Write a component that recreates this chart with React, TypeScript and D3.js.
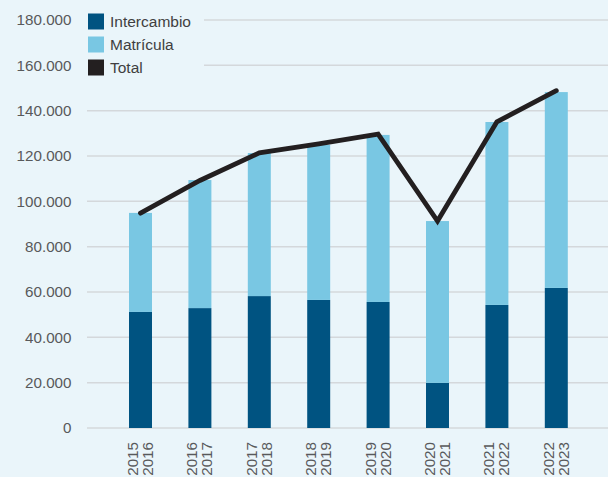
import React from "react";
import * as d3 from "d3";

const categories = [
  ["2015", "2016"],
  ["2016", "2017"],
  ["2017", "2018"],
  ["2018", "2019"],
  ["2019", "2020"],
  ["2020", "2021"],
  ["2021", "2022"],
  ["2022", "2023"],
];
const intercambio = [51200, 52900, 58200, 56500, 55600, 19900, 54300, 61800];
const matricula = [43700, 56500, 63100, 68400, 73700, 71400, 80700, 86400];
const total = [94800, 109200, 121400, 125300, 129600, 91300, 135100, 148800];
const yTicks = [0, 20000, 40000, 60000, 80000, 100000, 120000, 140000, 160000, 180000];
const legendItems = ["Intercambio", "Matrícula", "Total"];

const W = 608;
const H = 477;
const BG = "#eaf5fa";
const DARK = "#005381";
const LIGHT = "#79c7e3";
const LINE = "#231f20";
const GRID = "#d4d8db";
const FONT = "'Liberation Sans', Arial, Helvetica, sans-serif";

export default function App() {
  const keys = categories.map((c) => c.join("-"));
  const x = d3
    .scaleBand<string>()
    .domain(keys)
    .range([110.8, 586])
    .paddingInner(0.613)
    .paddingOuter(0.3065);
  const y = d3.scaleLinear().domain([0, 180000]).range([428, 20]);
  const fmt = (v: number) => (v === 0 ? "0" : d3.format(",")(v).replace(/,/g, "."));
  const bw = x.bandwidth();
  const cx = (i: number) => (x(keys[i]) as number) + bw / 2;

  const line = d3
    .line<number>()
    .x((_, i) => cx(i))
    .y((d) => y(d));

  const legendColors = [DARK, LIGHT, LINE];

  return (
    <div style={{ position: "absolute", left: 0, top: 0 }}>
      <svg width={W} height={H} style={{ display: "block" }} fontFamily={FONT}>
        <rect x={0} y={0} width={W} height={H} fill={BG} />
        {yTicks.map((t) => (
          <g key={t}>
            <line x1={87} x2={W} y1={y(t)} y2={y(t)} stroke={GRID} strokeWidth={1.5} />
            <text
              x={71.5}
              y={y(t)}
              dy="0.36em"
              textAnchor="end"
              fontSize={15.2}
              fill="#58595b"
            >
              {fmt(t)}
            </text>
          </g>
        ))}
        {keys.map((k, i) => (
          <g key={k}>
            <rect
              x={x(k)}
              y={y(intercambio[i])}
              width={bw}
              height={y(0) - y(intercambio[i])}
              fill={DARK}
            />
            <rect
              x={x(k)}
              y={y(intercambio[i] + matricula[i])}
              width={bw}
              height={y(intercambio[i]) - y(intercambio[i] + matricula[i])}
              fill={LIGHT}
            />
            <text
              transform={`translate(${cx(i)},442) rotate(-90)`}
              textAnchor="end"
              fontSize={15.2}
              fill="#58595b"
            >
              <tspan x={0} y={-2.5}>
                {categories[i][0]}
              </tspan>
              <tspan x={0} y={12.5}>
                {categories[i][1]}
              </tspan>
            </text>
          </g>
        ))}
        <path
          d={line(total) || ""}
          fill="none"
          stroke={LINE}
          strokeWidth={4.8}
          strokeLinecap="round"
          strokeLinejoin="miter"
        />
        <rect x={87} y={0} width={117} height={84} fill={BG} />
        {legendItems.map((name, i) => (
          <g key={name} transform={`translate(88,${13.5 + i * 23})`}>
            <rect x={0} y={0} width={16} height={16} fill={legendColors[i]} />
            <text x={22} y={8} dy="0.36em" fontSize={15.5} fill="#3f3f41">
              {name}
            </text>
          </g>
        ))}
      </svg>
    </div>
  );
}
